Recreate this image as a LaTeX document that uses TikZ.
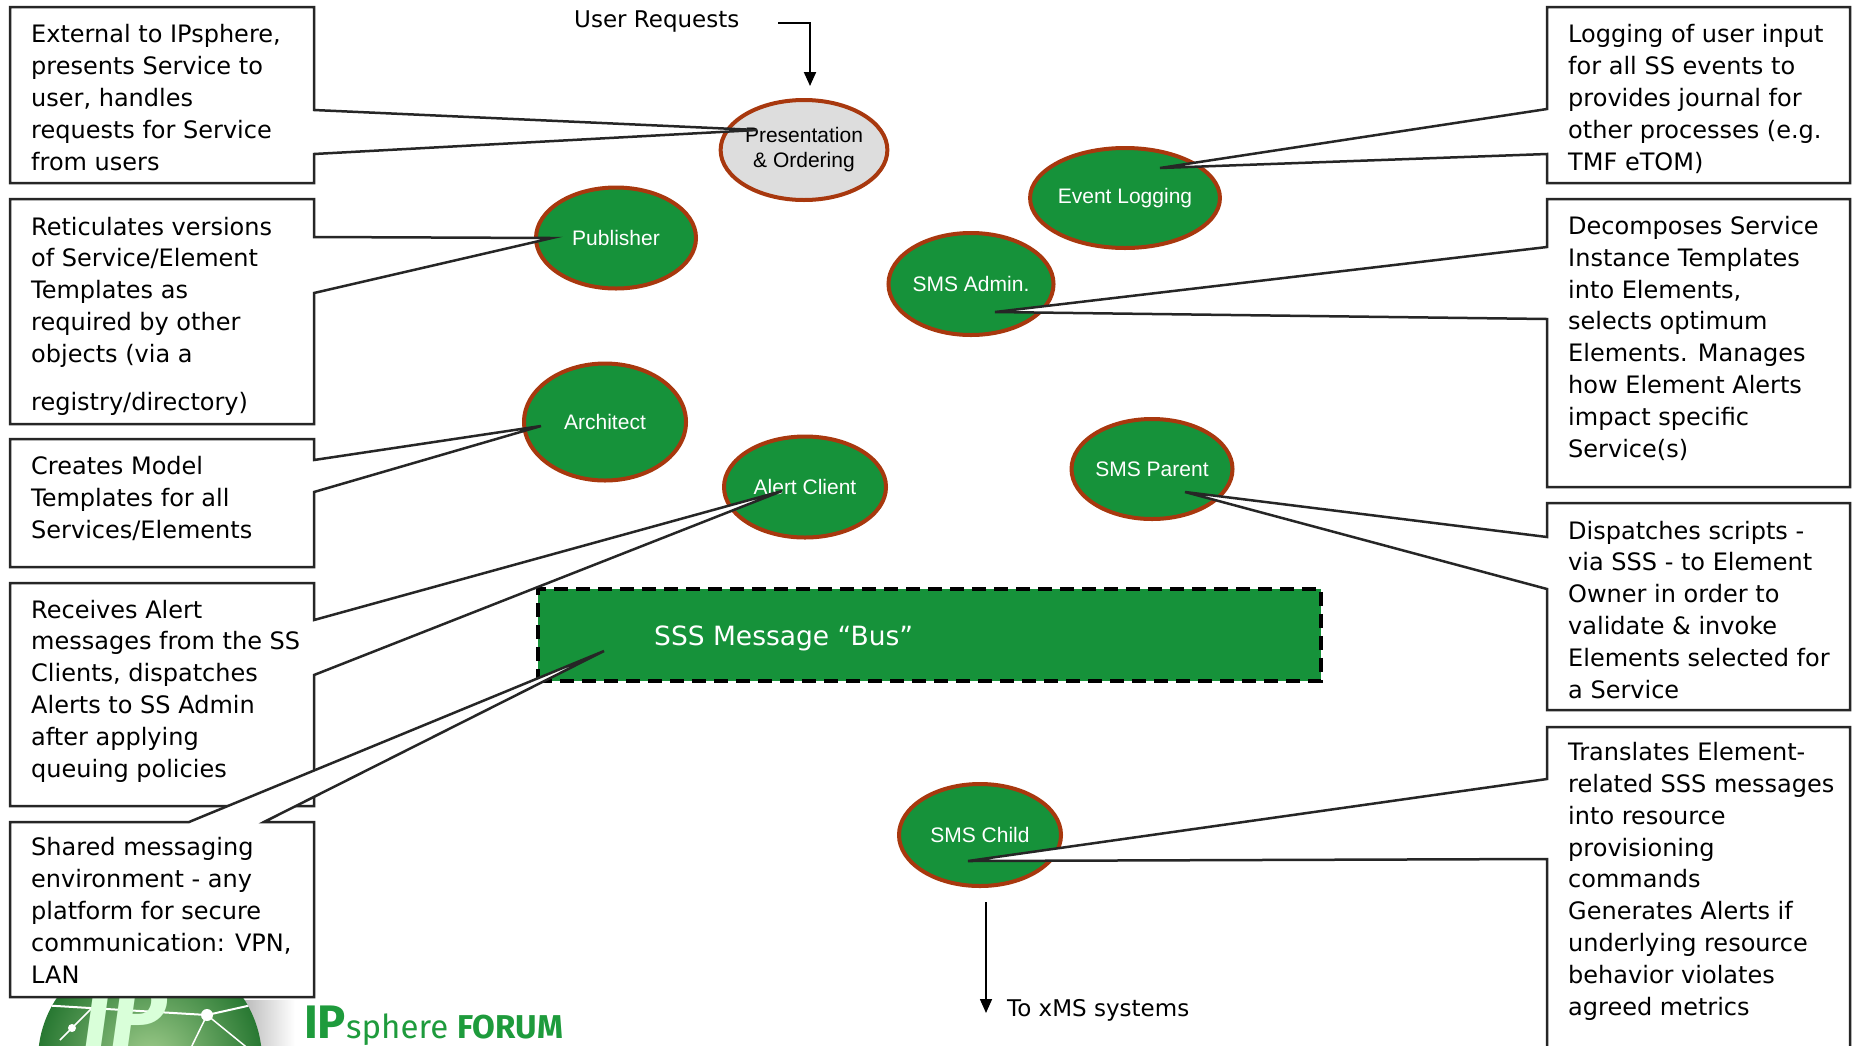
\documentclass[tikz,border=0pt]{standalone}
\usepackage{fontspec}
\setmainfont{DejaVu Sans}
\newfontfamily\arialf{Liberation Sans}
\newfontfamily\logof{Fira Sans}
\usetikzlibrary{shapes.geometric,arrows.meta,calc}
\definecolor{sgreen}{HTML}{16923A}
\definecolor{rust}{HTML}{A8380E}
\definecolor{pgrey}{HTML}{DDDDDD}
\definecolor{logogreen}{HTML}{1E9B3C}
\definecolor{globein}{RGB}{160,205,140}
\definecolor{globeout}{RGB}{40,120,50}
\begin{document}
\begin{tikzpicture}[x=1pt,y=-1pt,
 comp/.style={ellipse, draw=rust, line width=4pt, fill=sgreen, text=white,
   font=\arialf\fontsize{21}{25}\selectfont, inner sep=0pt, align=center},
 callout/.style={draw=black!85, line width=2.5pt, fill=white, line join=miter},
 desc/.style={anchor=base west, align=left, inner sep=0pt, font=\fontsize{24}{31.8}\selectfont},
 plain/.style={anchor=base west, inner sep=0pt, font=\fontsize{23}{28}\selectfont},
 arr/.style={line width=2pt, -{Triangle[length=14pt,width=12pt]}},
]
\clip (0,0) rectangle (1854,1045);
\fill[white] (0,0) rectangle (1854,1045);

% ---- logo ----
\shade[left color=black!30, right color=white] (238,1000) rectangle (295,1045);
\begin{scope}
\clip (150,1060) circle (112);
\shade[inner color=globein, outer color=globeout] (150,1060) circle (112);
\draw[white, line width=2pt] (40,1005) -- (207,1015) -- (265,1002);
\draw[white, line width=1.5pt] (207,1015) -- (185,1060);
\draw[white, line width=1.5pt] (207,1015) -- (250,1050);
\draw[white, line width=1.5pt] (60,1040) -- (100,1000);
\fill[white] (207,1015) circle (6);
\fill[white] (72,1028) circle (4);
\node[inner sep=0pt, text=white!85!green, font=\logof\bfseries\itshape\fontsize{95}{95}\selectfont] (globeip) at (125,1015) {IP};
\end{scope}
\node[anchor=base west, inner sep=0pt, text=logogreen] (logotext) at (304,1038)
 {{\logof\bfseries\fontsize{47}{47}\selectfont IP}{\logof\fontsize{33}{33}\selectfont sphere}\hspace{9pt}{\logof\bfseries\fontsize{33}{33}\selectfont FORUM}};

% ---- bus ----
\node[draw=black, fill=sgreen, line width=4pt, dash pattern=on 14pt off 8pt,
  minimum width=783pt, minimum height=92pt, inner sep=0pt] (bus) at (929.5,635) {};
\node[anchor=base west, inner sep=0pt, text=white, font=\fontsize{26.5}{30}\selectfont] (bustext) at (654,645) {SSS Message “Bus”};

% ---- components ----
\node[comp, fill=pgrey, text=black, minimum width=162pt, minimum height=100pt] (pres) at (804,150) {Presentation\\\& Ordering};
\node[comp, minimum width=160pt, minimum height=101pt] (pub) at (616,238) {Publisher};
\node[comp, minimum width=162pt, minimum height=117pt] (arch) at (605,422) {Architect};
\node[comp, minimum width=162pt, minimum height=101pt] (alert) at (805,487) {Alert Client};
\node[comp, minimum width=163pt, minimum height=100pt] (evlog) at (1125,198) {Event Logging};
\node[comp, minimum width=162pt, minimum height=102pt] (admin) at (971,284) {SMS Admin.};
\node[comp, minimum width=161pt, minimum height=100pt] (parent) at (1152,469) {SMS Parent};
\node[comp, minimum width=162pt, minimum height=102pt] (child) at (980,835) {SMS Child};

% ---- callout tips ----
\coordinate (t1) at (757,130);
\coordinate (t2) at (552,238);
\coordinate (t3) at (541,426);
\coordinate (t4) at (782,491);
\coordinate (t5) at (604,651);
\coordinate (t6) at (1160,168);
\coordinate (t7) at (995,312);
\coordinate (t8) at (1185,492);
\coordinate (t9) at (968,861);

% ---- callouts ----
\draw[callout] (10,7) -- (314,7) -- (314,110) -- (t1) -- (314,154) -- (314,183) -- (10,183) -- cycle;
\draw[callout] (10,199) -- (314,199) -- (314,237) -- (t2) -- (314,293) -- (314,424) -- (10,424) -- cycle;
\draw[callout] (10,439) -- (314,439) -- (314,460) -- (t3) -- (314,492) -- (314,567) -- (10,567) -- cycle;
\draw[callout] (10,583) -- (314,583) -- (314,620) -- (t4) -- (314,675) -- (314,806) -- (10,806) -- cycle;
\draw[callout] (10,822) -- (189,822) -- (t5) -- (264,822) -- (314,822) -- (314,997) -- (10,997) -- cycle;
\draw[callout] (1850,7) -- (1547,7) -- (1547,109) -- (t6) -- (1547,154) -- (1547,183) -- (1850,183) -- cycle;
\draw[callout] (1850,199) -- (1547,199) -- (1547,247) -- (t7) -- (1547,319) -- (1547,487) -- (1850,487) -- cycle;
\draw[callout] (1850,503) -- (1547,503) -- (1547,537) -- (t8) -- (1547,589) -- (1547,710) -- (1850,710) -- cycle;
\draw[callout] (1850,727) -- (1547,727) -- (1547,779) -- (t9) -- (1547,859) -- (1547,1070) -- (1850,1070) -- cycle;

% ---- descriptions (anchored at the baseline of their last line) ----
\node[desc] (d1) at (31,170) {External to IPsphere,\\presents Service to\\user, handles\\requests for Service\\from users};
\node[desc] (d2) at (31,410) {Reticulates versions\\of Service/Element\\Templates as\\required by other\\objects (via a\\[16pt]registry/directory)};
\node[desc] (d3) at (31,538) {Creates Model\\Templates for all\\Services/Elements};
\node[desc] (d4) at (31,777) {Receives Alert\\messages from the SS\\Clients, dispatches\\Alerts to SS Admin\\after applying\\queuing policies};
\node[desc] (d5) at (31,983) {Shared messaging\\environment - any\\platform for secure\\communication: VPN,\\LAN};
\node[desc] (d6) at (1568,170) {Logging of user input\\for all SS events to\\provides journal for\\other processes (e.g.\\TMF eTOM)};
\node[desc] (d7) at (1568,457) {Decomposes Service\\Instance Templates\\into Elements,\\selects optimum\\Elements. Manages\\how Element Alerts\\impact specific\\Service(s)};
\node[desc] (d8) at (1568,698) {Dispatches scripts -\\via SSS - to Element\\Owner in order to\\validate \& invoke\\Elements selected for\\a Service};
\node[desc] (d9) at (1568,1015) {Translates Element-\\related SSS messages\\into resource\\provisioning\\commands\\Generates Alerts if\\underlying resource\\behavior violates\\agreed metrics};

% ---- external arrows ----
\node[plain] (ureq) at (574,27) {User Requests};
\coordinate (ureqend) at (778,23);
\coordinate (prestop) at (810,86);
\draw[arr] (ureqend) -| (prestop);
\coordinate (childout) at (986,902);
\coordinate (xmsend) at (986,1013);
\draw[arr, line width=1.5pt] (childout) -- (xmsend);
\node[plain] (xms) at (1007,1016) {To xMS systems};
\end{tikzpicture}
\end{document}
